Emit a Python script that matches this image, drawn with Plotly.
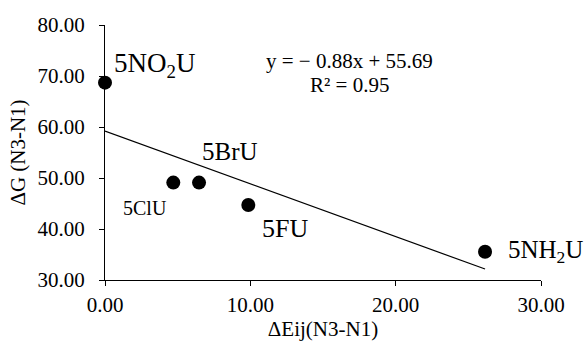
import numpy as np
import plotly.graph_objects as go

# Data
names = ["5NO<sub>2</sub>U", "5ClU", "5BrU", "5FU", "5NH<sub>2</sub>U"]
delta_eij = [0.0, 4.70, 6.47, 9.86, 26.15]
delta_g = [68.7, 49.1, 49.1, 44.7, 35.55]
x_ticks = [0, 10, 20, 30]
y_ticks = [30, 40, 50, 60, 70, 80]
equation_text = "y = − 0.88x + 55.69"
r2_text = "R² = 0.95"

FONT = "Liberation Serif"

slope, intercept = np.polyfit(delta_eij, delta_g, 1)
x_fit = [min(delta_eij), max(delta_eij)]
y_fit = [slope * v + intercept for v in x_fit]

fig = go.Figure()
fig.add_trace(go.Scatter(x=x_fit, y=y_fit, mode="lines",
                         line=dict(color="black", width=1.2),
                         hoverinfo="skip", showlegend=False, cliponaxis=False))
fig.add_trace(go.Scatter(x=delta_eij, y=delta_g, mode="markers",
                         marker=dict(color="black", size=14),
                         showlegend=False, cliponaxis=False))

# label offsets (pixels) and anchors
label_style = {
    "5NO<sub>2</sub>U": dict(xanchor="left", xshift=7, yshift=18, size=27),
    "5ClU": dict(xanchor="right", xshift=-4, yshift=-25, size=20),
    "5BrU": dict(xanchor="left", xshift=1, yshift=31, size=25),
    "5FU": dict(xanchor="left", xshift=12, yshift=-23, size=26),
    "5NH<sub>2</sub>U": dict(xanchor="left", xshift=21, yshift=0, size=25),
}
for n, xv, yv in zip(names, delta_eij, delta_g):
    s = label_style[n]
    fig.add_annotation(x=xv, y=yv, text=n, showarrow=False,
                       xanchor=s["xanchor"], yanchor="middle",
                       xshift=s["xshift"], yshift=s["yshift"],
                       font=dict(family=FONT, size=s["size"], color="black"))

fig.add_annotation(xref="paper", yref="paper", x=0.561, y=0.859, text=equation_text,
                   showarrow=False, xanchor="center", yanchor="middle",
                   font=dict(family=FONT, size=21, color="black"))
fig.add_annotation(xref="paper", yref="paper", x=0.561, y=0.765, text=r2_text,
                   showarrow=False, xanchor="center", yanchor="middle",
                   font=dict(family=FONT, size=21, color="black"))

axis_common = dict(showgrid=False, zeroline=False, showline=True, linecolor="black",
                   linewidth=1.2, ticks="outside", ticklen=5, tickcolor="black",
                   tickwidth=1.2, tickformat=".2f", automargin=False,
                   tickfont=dict(family=FONT, size=21, color="black"))
fig.update_xaxes(range=[0, 30], tickvals=x_ticks, ticklabelstandoff=1, **axis_common,
                 title=dict(text="ΔEij(N3-N1)", standoff=2,
                            font=dict(family=FONT, size=21, color="black")))
fig.update_yaxes(range=[30, 80], tickvals=y_ticks, ticklabelstandoff=10, **axis_common,
                 title=dict(text="ΔG (N3-N1)", standoff=6,
                            font=dict(family=FONT, size=21, color="black")))

fig.update_layout(width=588, height=341, margin=dict(l=105, r=47, t=25, b=61),
                  plot_bgcolor="white", paper_bgcolor="white")
fig.write_html("out.html", config={"displayModeBar": False},
               post_script="document.body.style.margin='0';document.body.style.overflow='hidden';")
